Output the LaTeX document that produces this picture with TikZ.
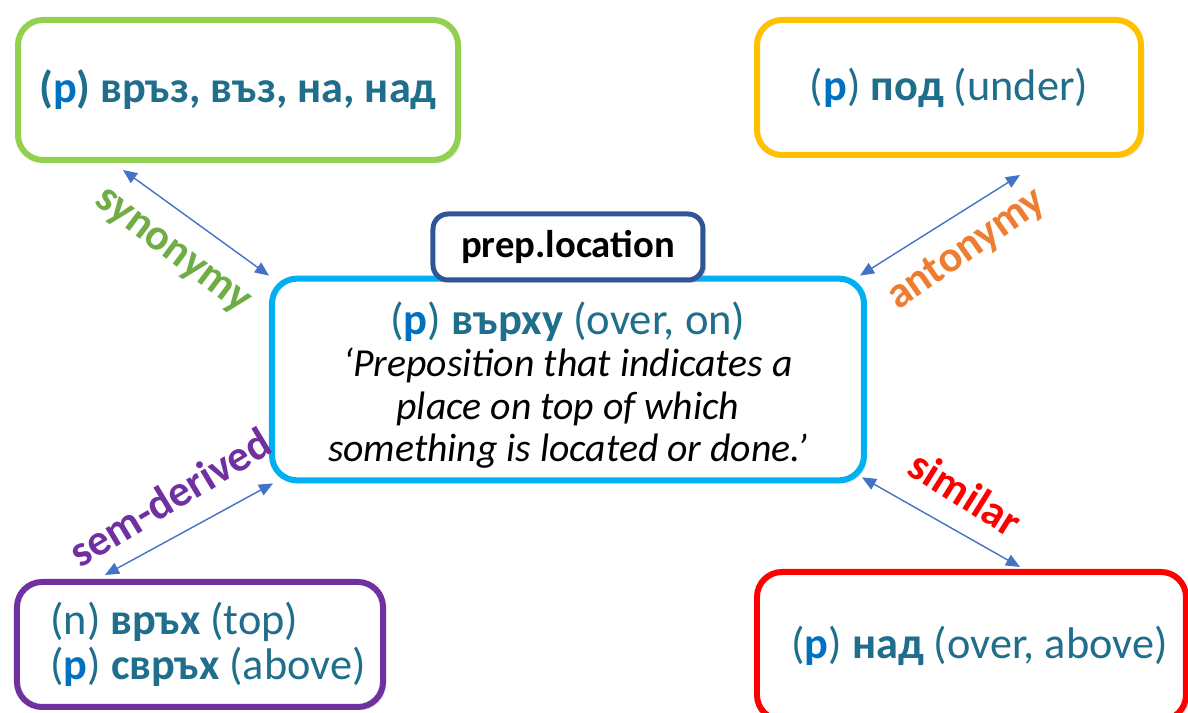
\documentclass[tikz,border=0pt]{standalone}
\usepackage{fontspec}
\setmainfont{Carlito}
\usetikzlibrary{arrows.meta,shadows}

\definecolor{wordteal}{RGB}{31,110,140}
\definecolor{posblue}{RGB}{0,112,192}
\definecolor{linkblue}{RGB}{68,114,196}
\definecolor{synGreen}{RGB}{146,208,80}
\definecolor{relGreen}{RGB}{112,173,71}
\definecolor{antYellow}{RGB}{255,192,0}
\definecolor{relOrange}{RGB}{237,125,49}
\definecolor{clsBlue}{RGB}{47,85,151}
\definecolor{centCyan}{RGB}{0,176,240}
\definecolor{derPurple}{RGB}{112,48,160}
\definecolor{simRed}{RGB}{255,0,0}

\newcommand{\pp}{\textcolor{posblue}{\textbf{p}}}

\begin{document}
\begin{tikzpicture}[
    box/.style={rectangle,rounded corners=0.25cm,draw,line width=0.06cm,fill=white,
      drop shadow={shadow xshift=0.03cm,shadow yshift=-0.03cm,opacity=0.25},
      text=wordteal,font=\fontsize{12.6}{12.8}\selectfont},
    link/.style={draw=linkblue,line width=0.4pt,
      {Triangle[length=4pt,width=3.4pt]}-{Triangle[length=4pt,width=3.4pt]}},
    rel/.style={font=\fontsize{12.5}{14}\bfseries\selectfont}
  ]
    \useasboundingbox (0,0) rectangle (11.88,7.13);

    % word boxes
    \node[box,draw=synGreen,minimum width=4.4cm,minimum height=1.4cm] (syn) at (2.38,6.23)
        {\textbf{(\pp) връз, въз, на, над}};
    \node[box,draw=antYellow,minimum width=3.84cm,minimum height=1.35cm] (ant) at (9.49,6.255)
        {(\pp) \textbf{под} (under)};
    \node[box,draw=centCyan,minimum width=5.92cm,minimum height=1.81cm,align=center,
        font=\fontsize{11.3}{12.1}\selectfont] (cent) at (5.68,3.335)
        {\rule{0pt}{12.5pt}{\fontsize{12.7}{12.1}\selectfont (\pp) \textbf{върху} (over, on)}\\
         \color{black}\itshape ‘Preposition that indicates a\\
         \color{black}\itshape place on top of which\\
         \color{black}\itshape something is located or done.’};
    \node[box,draw=clsBlue,rounded corners=0.15cm,line width=0.05cm,minimum width=2.7cm,
        minimum height=0.66cm,text=black,font=\fontsize{11}{12}\bfseries\selectfont] (cls) at (5.68,4.66)
        {prep.location};
    \node[box,draw=derPurple,minimum width=3.66cm,minimum height=1.25cm,align=left] (der) at (2.0,0.685)
        {\hspace*{0.16cm}(n) \textbf{връх} (top)\\\hspace*{0.16cm}(\pp) \textbf{свръх} (above)};
    \node[box,draw=simRed,minimum width=4.29cm,minimum height=1.48cm] (sim) at (9.715,0.67)
        {\hspace*{0.16cm}(\pp) \textbf{над} (over, above)};

    % arrow ends
    \coordinate (synA) at ([xshift=1.08cm,yshift=-0.07cm]syn.south west);
    \coordinate (synB) at (cent.north west);
    \coordinate (antA) at ([xshift=2.66cm,yshift=-0.17cm]ant.south west);
    \coordinate (antB) at ([xshift=-0.07cm]cent.north east);
    \coordinate (derA) at ([xshift=0.04cm]cent.south west);
    \coordinate (derB) at ([xshift=0.91cm,yshift=0.04cm]der.north west);
    \coordinate (simA) at ([xshift=-0.05cm,yshift=0.06cm]cent.south east);
    \coordinate (simB) at ([xshift=2.66cm,yshift=0.02cm]sim.north west);

    % connections
    \foreach \r in {syn,ant,der,sim}
        \draw[link] (\r A) -- (\r B);

    % relation labels
    \node[rel,text=relGreen,rotate=-37] (synlab) at (1.71,4.60) {synonymy};
    \node[rel,text=relOrange,rotate=35] (antlab) at (9.67,4.63) {antonymy};
    \node[rel,text=derPurple,rotate=31] (derlab) at (1.70,2.16) {sem-derived};
    \node[rel,text=simRed,rotate=-32] (simlab) at (9.66,2.20) {similar};
\end{tikzpicture}
\end{document}
